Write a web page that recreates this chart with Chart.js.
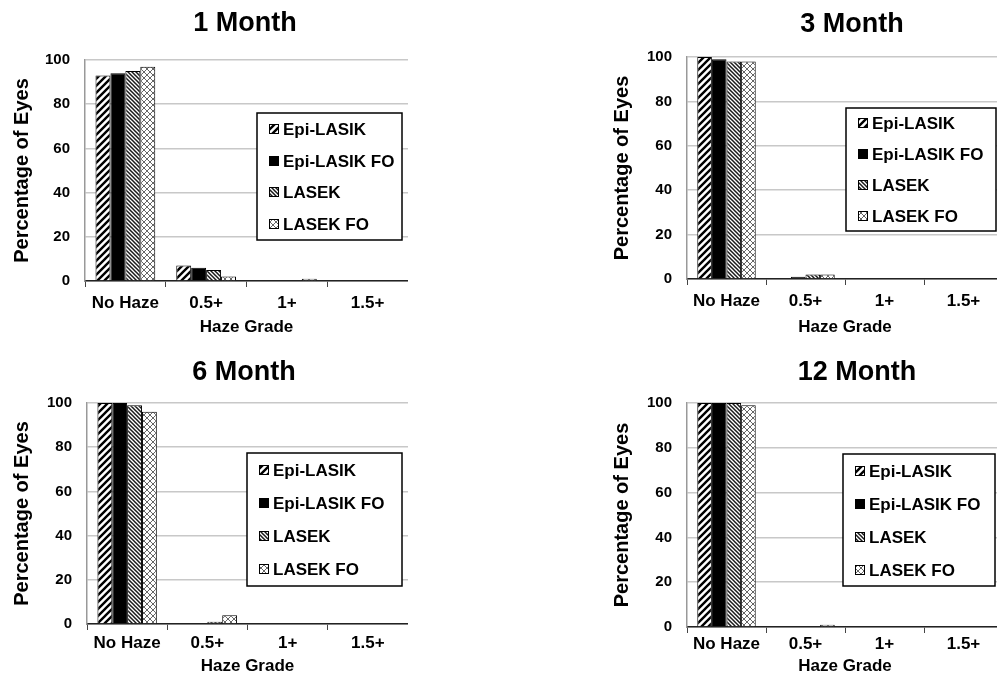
<!DOCTYPE html>
<html>
<head>
<meta charset="utf-8">
<script src="https://cdn.jsdelivr.net/npm/chart.js@4.4.1/dist/chart.umd.min.js"></script>
<style>
  html, body { margin: 0; padding: 0; background: #fff; overflow: hidden; width: 997px; height: 675px; }
  .panel { position: absolute; }
</style>
</head>
<body>
<div class="panel" style="left:0;top:0;width:408px;height:341px"><canvas id="m1"></canvas></div>
<div class="panel" style="left:600px;top:0;width:403px;height:341px"><canvas id="m3"></canvas></div>
<div class="panel" style="left:0;top:343px;width:408px;height:332px"><canvas id="m6"></canvas></div>
<div class="panel" style="left:600px;top:343px;width:403px;height:332px"><canvas id="m12"></canvas></div>
<script>
// Haze grades on the x axis and the four treatment groups
const categories = ['No Haze', '0.5+', '1+', '1.5+'];
const seriesNames = ['Epi-LASIK', 'Epi-LASIK FO', 'LASEK', 'LASEK FO'];
const yTickValues = [0, 20, 40, 60, 80, 100];

// Percentage of eyes per haze grade, 1 month
const epiLasik1 = [93, 7, 0, 0];
const epiLasikFO1 = [94, 6, 0, 0];
const lasek1 = [95, 5, 0, 0];
const lasekFO1 = [97, 2, 1, 0];

// 3 months
const epiLasik3 = [100, 0, 0, 0];
const epiLasikFO3 = [99, 1, 0, 0];
const lasek3 = [98, 2, 0, 0];
const lasekFO3 = [98, 2, 0, 0];

// 6 months
const epiLasik6 = [100, 0, 0, 0];
const epiLasikFO6 = [100, 0, 0, 0];
const lasek6 = [99, 1, 0, 0];
const lasekFO6 = [96, 4, 0, 0];

// 12 months
const epiLasik12 = [100, 0, 0, 0];
const epiLasikFO12 = [100, 0, 0, 0];
const lasek12 = [100, 0, 0, 0];
const lasekFO12 = [99, 1, 0, 0];

const FONT = '"Liberation Sans", Arial, Helvetica, sans-serif';

// Monochrome fill patterns, one per treatment group
function tile(size, draw) {
  const c = document.createElement('canvas');
  c.width = size; c.height = size;
  const g = c.getContext('2d');
  g.fillStyle = '#fff';
  g.fillRect(0, 0, size, size);
  draw(g, size);
  return g.createPattern(c, 'repeat');
}
function slash(g, s) {
  g.beginPath();
  g.moveTo(-1, s + 1); g.lineTo(s + 1, -1);
  g.moveTo(-1, 1); g.lineTo(1, -1);
  g.moveTo(s - 1, s + 1); g.lineTo(s + 1, s - 1);
  g.stroke();
}
function backslash(g, s) {
  g.beginPath();
  g.moveTo(-1, -1); g.lineTo(s + 1, s + 1);
  g.moveTo(s - 1, -1); g.lineTo(s + 1, 1);
  g.moveTo(-1, s - 1); g.lineTo(1, s + 1);
  g.stroke();
}
const fills = [
  tile(7, (g, s) => { g.strokeStyle = '#000'; g.lineWidth = 2.4; slash(g, s); }),
  '#000',
  tile(4, (g, s) => { g.strokeStyle = '#1a1a1a'; g.lineWidth = 1.5; backslash(g, s); }),
  tile(6, (g, s) => { g.strokeStyle = '#666'; g.lineWidth = 1; slash(g, s); backslash(g, s); })
];

// Boxed legend placed inside the plot area
const boxLegend = {
  id: 'boxLegend',
  afterDatasetsDraw(chart, args, o) {
    const { ctx, chartArea: a } = chart;
    const x = a.left + o.dx, y = a.top + o.dy, w = o.w, h = o.h;
    ctx.save();
    ctx.fillStyle = '#fff';
    ctx.fillRect(x, y, w, h);
    ctx.strokeStyle = '#000';
    ctx.lineWidth = 1.5;
    ctx.strokeRect(x, y, w, h);
    ctx.font = 'bold 17px ' + FONT;
    ctx.textBaseline = 'middle';
    ctx.textAlign = 'left';
    const n = chart.data.datasets.length;
    const step = h / n;
    chart.data.datasets.forEach((ds, i) => {
      const cy = Math.round(y + step * (i + 0.5));
      ctx.fillStyle = ds.backgroundColor;
      ctx.fillRect(x + 12, cy - 5, 10, 10);
      ctx.strokeStyle = '#000';
      ctx.lineWidth = 1;
      ctx.strokeRect(x + 12.5, cy - 4.5, 9, 9);
      ctx.fillStyle = '#000';
      ctx.fillText(ds.label, x + 26, cy + 1);
    });
    ctx.restore();
  }
};

// Panel heading
const panelTitle = {
  id: 'panelTitle',
  afterDraw(chart, args, o) {
    const ctx = chart.ctx;
    ctx.save();
    ctx.font = 'bold 27px ' + FONT;
    ctx.fillStyle = '#000';
    ctx.textAlign = 'center';
    ctx.textBaseline = 'middle';
    ctx.fillText(o.text, o.x, o.y);
    ctx.restore();
  }
};

function makePanel(id, title, series, layout) {
  const tickFont = { family: FONT, size: 15, weight: 'bold' };
  const labelFont = { family: FONT, size: 17, weight: 'bold' };
  const yTitleFont = { family: FONT, size: 20, weight: 'bold' };
  return new Chart(document.getElementById(id), {
    type: 'bar',
    data: {
      labels: categories,
      datasets: series.map((vals, i) => ({
        label: seriesNames[i],
        data: vals,
        backgroundColor: fills[i],
        borderColor: '#000',
        borderWidth: 1,
        categoryPercentage: 0.74,
        barPercentage: 1.0
      }))
    },
    options: {
      responsive: true,
      maintainAspectRatio: false,
      animation: false,
      layout: { padding: { top: layout.top, left: 0, right: 0, bottom: 0 } },
      plugins: {
        legend: { display: false },
        tooltip: { enabled: false },
        boxLegend: layout.legend,
        panelTitle: { text: title, x: layout.titleX, y: layout.titleY }
      },
      scales: {
        x: {
          grid: { offset: true, drawOnChartArea: false, tickLength: 6, color: '#444', lineWidth: 1 },
          border: { color: '#222', width: 1.5 },
          ticks: { font: labelFont, color: '#000', padding: layout.xpad, maxRotation: 0, autoSkip: false },
          title: { display: true, text: 'Haze Grade', font: labelFont, color: '#000', padding: { top: 0, bottom: layout.tpad } },
          afterFit(s) { s.height = layout.xh; }
        },
        y: {
          min: 0, max: 100,
          afterBuildTicks(s) { s.ticks = yTickValues.map(v => ({ value: v })); },
          grid: { color: '#c8c8c8', lineWidth: 1.5, drawTicks: false },
          border: { color: '#999', width: 1.5 },
          ticks: { font: tickFont, color: '#000', padding: 15 },
          title: { display: true, text: 'Percentage of Eyes', font: yTitleFont, color: '#000', padding: { top: 10, bottom: 0 } },
          afterFit(s) { s.width = layout.yw; }
        }
      }
    },
    plugins: [boxLegend, panelTitle]
  });
}

makePanel('m1', '1 Month', [epiLasik1, epiLasikFO1, lasek1, lasekFO1],
  { top: 60, yw: 85, xh: 60, xpad: 6, tpad: 3, titleX: 245, titleY: 24, legend: { dx: 172, dy: 53, w: 145, h: 127 } });
makePanel('m3', '3 Month', [epiLasik3, epiLasikFO3, lasek3, lasekFO3],
  { top: 57, yw: 87, xh: 62, xpad: 6, tpad: 3, titleX: 252, titleY: 25, legend: { dx: 159, dy: 51, w: 150, h: 123 } });
makePanel('m6', '6 Month', [epiLasik6, epiLasikFO6, lasek6, lasekFO6],
  { top: 60, yw: 87, xh: 51, xpad: 3, tpad: -2, titleX: 244, titleY: 30, legend: { dx: 160, dy: 50, w: 155, h: 133 } });
makePanel('m12', '12 Month', [epiLasik12, epiLasikFO12, lasek12, lasekFO12],
  { top: 60, yw: 87, xh: 48, xpad: 1, tpad: -2, titleX: 257, titleY: 30, legend: { dx: 156, dy: 51, w: 152, h: 132 } });
</script>
</body>
</html>
